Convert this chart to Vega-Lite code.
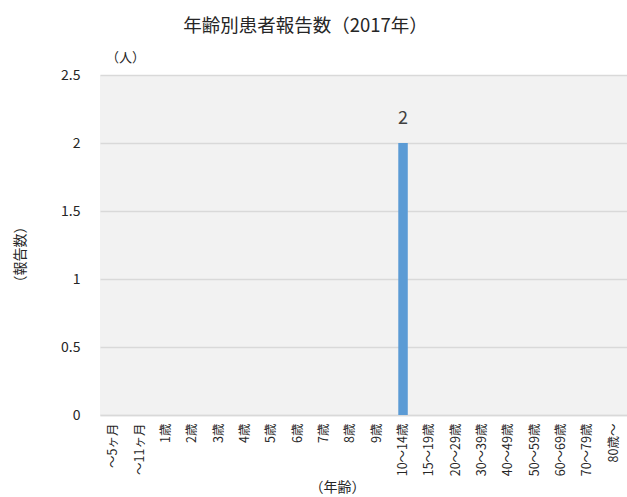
{
  "$schema": "https://vega.github.io/schema/vega-lite/v6.json",
  "width": 527,
  "height": 340,
  "autosize": "none",
  "padding": {"left": 100, "top": 75, "right": 0, "bottom": 82},
  "background": "white",
  "config": {
    "font": "Noto Sans CJK JP",
    "view": {"fill": "#f2f2f2", "stroke": null},
    "axis": {"labelColor": "#262626", "titleColor": "#262626", "labelFont": "Noto Sans CJK JP", "titleFont": "Noto Sans CJK JP"}
  },
  "title": {
    "text": "年齢別患者報告数（2017年）",
    "fontSize": 18.5,
    "fontWeight": "normal",
    "color": "#262626",
    "anchor": "middle",
    "frame": "group",
    "dx": -58,
    "offset": 16
  },
  "data": {
    "values": [
      {"age": "～5ヶ月", "count": 0},
      {"age": "～11ヶ月", "count": 0},
      {"age": "1歳", "count": 0},
      {"age": "2歳", "count": 0},
      {"age": "3歳", "count": 0},
      {"age": "4歳", "count": 0},
      {"age": "5歳", "count": 0},
      {"age": "6歳", "count": 0},
      {"age": "7歳", "count": 0},
      {"age": "8歳", "count": 0},
      {"age": "9歳", "count": 0},
      {"age": "10～14歳", "count": 2},
      {"age": "15～19歳", "count": 0},
      {"age": "20～29歳", "count": 0},
      {"age": "30～39歳", "count": 0},
      {"age": "40～49歳", "count": 0},
      {"age": "50～59歳", "count": 0},
      {"age": "60～69歳", "count": 0},
      {"age": "70～79歳", "count": 0},
      {"age": "80歳～", "count": 0}
    ]
  },
  "resolve": {"axis": {"x": "independent"}},
  "layer": [
    {
      "mark": {"type": "bar", "color": "#5b9bd5", "width": 9.5},
      "encoding": {
        "x": {
          "field": "age", "type": "nominal", "sort": null,
          "axis": {
            "title": "（年齢）",
            "titleFontSize": 14,
            "titleFontWeight": "normal",
            "titleX": 237,
            "titleY": 72,
            "titleBaseline": "middle",
            "labelAngle": 270,
            "labelFontSize": 12.5,
            "labelPadding": 8,
            "ticks": false,
            "domainColor": "#d9d9d9",
            "domainWidth": 1.5,
            "grid": false
          }
        },
        "y": {
          "field": "count", "type": "quantitative",
          "scale": {"domain": [0, 2.5], "nice": false},
          "axis": {
            "title": "（報告数）",
            "titleFontSize": 14,
            "titleFontWeight": "normal",
            "titleX": -73,
            "titleY": 179,
            "values": [0, 0.5, 1, 1.5, 2, 2.5],
            "format": "~g",
            "labelFontSize": 14,
            "labelPadding": 20,
            "ticks": false,
            "domain": false,
            "gridColor": "#d9d9d9",
            "gridWidth": 1.5
          }
        }
      }
    },
    {
      "transform": [{"filter": "datum.count > 0"}],
      "mark": {"type": "text", "fontSize": 18, "fontWeight": "normal", "color": "#404040", "baseline": "bottom", "dy": -15},
      "encoding": {
        "x": {
          "field": "age", "type": "nominal", "sort": null,
          "axis": {
            "orient": "top",
            "title": "（人）",
            "titleFontSize": 13,
            "titleFontWeight": "normal",
            "titleX": 25,
            "titleY": -11,
            "labels": false,
            "ticks": false,
            "domain": false,
            "grid": false
          }
        },
        "y": {"field": "count", "type": "quantitative"},
        "text": {"field": "count", "type": "quantitative"}
      }
    }
  ]
}
